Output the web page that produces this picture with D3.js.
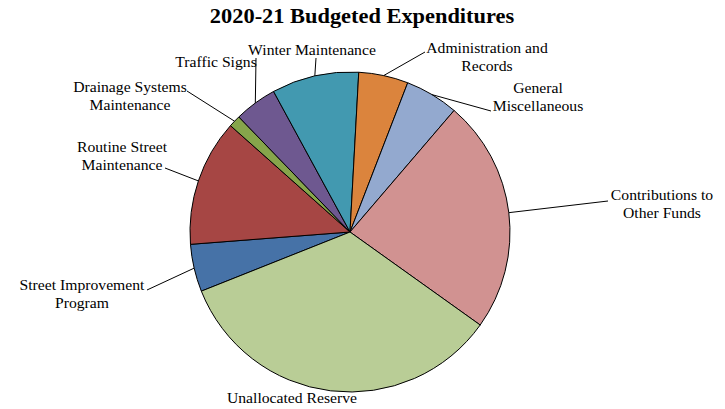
<!DOCTYPE html>
<html>
<head>
<meta charset="utf-8">
<script src="https://cdn.jsdelivr.net/npm/d3@7"></script>
<style>
  html, body { margin: 0; padding: 0; background: #fff; }
  svg { display: block; }
  text { font-family: "Liberation Serif", "Times New Roman", serif; fill: #000; }
</style>
</head>
<body>
<svg id="chart" width="725" height="409"></svg>
<script>
// Budget categories, in the order they are drawn clockwise
const categories = [
  "Street Improvement Program",
  "Routine Street Maintenance",
  "Drainage Systems Maintenance",
  "Traffic Signs",
  "Winter Maintenance",
  "Administration and Records",
  "General Miscellaneous",
  "Contributions to Other Funds",
  "Unallocated Reserve"
];
// Share of total budgeted expenditures (%)
const shares = [4.8, 12.8, 1.2, 4.3, 8.8, 5.0, 5.4, 23.6, 34.1];
// Label text, broken into lines
const labelLines = [
  ["Street Improvement", "Program"],
  ["Routine Street", "Maintenance"],
  ["Drainage Systems", "Maintenance"],
  ["Traffic Signs"],
  ["Winter Maintenance"],
  ["Administration and", "Records"],
  ["General", "Miscellaneous"],
  ["Contributions to", "Other Funds"],
  ["Unallocated Reserve"]
];
const title = "2020-21 Budgeted Expenditures";

const colors = ["#4672a7", "#a64644", "#86a54b", "#6e5890", "#4299b0",
                "#db843d", "#93a9cf", "#d19291", "#b9cd96"];

// Label placement: text centre x, first baseline y, leader end point (null = no leader)
const labelLayout = [
  { x: 82,  y: 290, lead: [147, 290] },
  { x: 122, y: 152, lead: [165, 168] },
  { x: 130, y: 91.5, lead: [187, 91] },
  { x: 216, y: 67,  lead: [256, 58] },
  { x: 312, y: 55,  lead: [316, 58] },
  { x: 487, y: 53,  lead: [425, 52] },
  { x: 538, y: 93,  lead: [491, 111] },
  { x: 662, y: 200, lead: [608, 201] },
  { x: 292, y: 403, lead: null }
];

const svg = d3.select("#chart");
const cx = 350, cy = 232, r = 160;
const textStretch = 1.12;
const lineGap = 18;

const data = categories.map((c, i) => ({ name: c, value: shares[i], i }));
const start = 248.3 * Math.PI / 180;

const pie = d3.pie().sort(null).value(d => d.value)
  .startAngle(start).endAngle(start + 2 * Math.PI);
const arc = d3.arc().innerRadius(0).outerRadius(r);
const arcs = pie(data);

const g = svg.append("g").attr("transform", `translate(${cx},${cy})`);
g.selectAll("path.slice")
  .data(arcs)
  .enter().append("path")
  .attr("class", "slice")
  .attr("d", arc)
  .attr("fill", d => colors[d.data.i])
  .attr("stroke", "#000")
  .attr("stroke-width", 1)
  .attr("stroke-linejoin", "round");

// Leader lines from slice edge to label
arcs.forEach(a => {
  const L = labelLayout[a.data.i];
  if (!L.lead) return;
  const mid = (a.startAngle + a.endAngle) / 2;
  const px = cx + r * Math.sin(mid), py = cy - r * Math.cos(mid);
  svg.append("line")
    .attr("x1", px).attr("y1", py)
    .attr("x2", L.lead[0]).attr("y2", L.lead[1])
    .attr("stroke", "#000").attr("stroke-width", 1);
});

// Category labels
arcs.forEach(a => {
  const L = labelLayout[a.data.i];
  labelLines[a.data.i].forEach((ln, k) => {
    svg.append("text")
      .attr("transform", `translate(${L.x},${L.y + k * lineGap}) scale(${textStretch},1)`)
      .attr("text-anchor", "middle")
      .attr("font-size", 14)
      .text(ln);
  });
});

// Title
svg.append("text")
  .attr("transform", `translate(362,23) scale(${textStretch},1)`)
  .attr("text-anchor", "middle")
  .attr("font-size", 20)
  .attr("font-weight", "bold")
  .text(title);
</script>
</body>
</html>
